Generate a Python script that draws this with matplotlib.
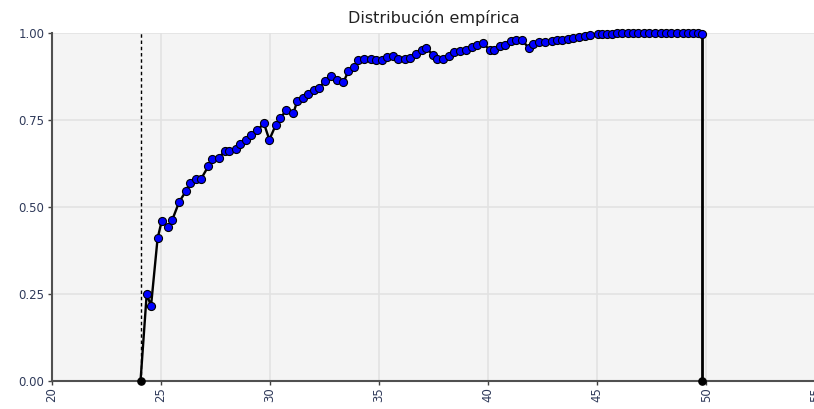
import matplotlib
matplotlib.use("Agg")
import matplotlib.pyplot as plt

title = "Distribución empírica"
x_min_bound = 24.08
x_max_bound = 49.78

xs = [24.36, 24.56, 24.86, 25.05, 25.35, 25.53, 25.85, 26.15, 26.34, 26.62,
      26.86, 27.18, 27.35, 27.66, 27.93, 28.14, 28.45, 28.65, 28.92, 29.14,
      29.43, 29.73, 29.98, 30.28, 30.48, 30.76, 31.08, 31.26, 31.53, 31.73,
      32.01, 32.25, 32.53, 32.80, 33.06, 33.37, 33.60, 33.87, 34.05, 34.33,
      34.64, 34.86, 35.13, 35.36, 35.63, 35.89, 36.19, 36.42, 36.70, 36.96,
      37.16, 37.46, 37.65, 37.95, 38.21, 38.44, 38.71, 38.97, 39.25, 39.51,
      39.78, 40.09, 40.27, 40.55, 40.77, 41.04, 41.26, 41.54, 41.86, 42.07,
      42.34, 42.61, 42.91, 43.14, 43.37, 43.67, 43.88, 44.18, 44.44, 44.67,
      45.02, 45.20, 45.43, 45.66, 45.92, 46.13, 46.39, 46.64, 46.89, 47.14,
      47.39, 47.65, 47.90, 48.15, 48.40, 48.65, 48.91, 49.16, 49.41, 49.62,
      49.78]
ys = [0.248, 0.215, 0.409, 0.459, 0.441, 0.462, 0.514, 0.544, 0.569, 0.581,
      0.581, 0.616, 0.638, 0.641, 0.659, 0.659, 0.667, 0.681, 0.693, 0.707,
      0.720, 0.740, 0.693, 0.736, 0.756, 0.777, 0.769, 0.805, 0.814, 0.825,
      0.835, 0.842, 0.861, 0.876, 0.864, 0.858, 0.890, 0.903, 0.922, 0.926,
      0.926, 0.921, 0.921, 0.930, 0.933, 0.926, 0.926, 0.929, 0.940, 0.950,
      0.957, 0.938, 0.924, 0.924, 0.935, 0.945, 0.948, 0.950, 0.959, 0.965,
      0.970, 0.950, 0.950, 0.962, 0.965, 0.978, 0.981, 0.981, 0.957, 0.967,
      0.973, 0.975, 0.976, 0.979, 0.979, 0.984, 0.986, 0.989, 0.991, 0.994,
      0.997, 0.996, 0.996, 0.997, 1.000, 1.000, 1.000, 1.000, 1.000, 1.000,
      1.000, 1.000, 1.000, 1.000, 1.000, 1.000, 1.000, 1.000, 1.000, 1.000,
      0.996]

x_ticks = [20, 25, 30, 35, 40, 45, 50, 55]
x_ticklabels = ["20", "25", "30", "35", "40", "45", "50", "55"]
y_ticks = [0.0, 0.25, 0.5, 0.75, 1.0]
y_ticklabels = ["0.00", "0.25", "0.50", "0.75", "1.00"]

W, H = 814, 409
fig = plt.figure(figsize=(W / 100, H / 100), dpi=100)
fig.patch.set_facecolor("white")
ax = fig.add_axes([51.5 / W, (H - 380.5) / H, 764 / W, 347.5 / H])
ax.set_facecolor("#f4f4f4")
ax.set_xlim(20, 55)
ax.set_ylim(0, 1)

ax.set_xticks(x_ticks)
ax.set_xticklabels(x_ticklabels, rotation=90)
ax.set_yticks(y_ticks)
ax.set_yticklabels(y_ticklabels)
ax.grid(True, color="#e2e2e2", linewidth=1.2)
ax.set_axisbelow(True)

for s in ["top", "right"]:
    ax.spines[s].set_visible(False)
for s in ["left", "bottom"]:
    ax.spines[s].set_color("#505050")
    ax.spines[s].set_linewidth(1.5)
ax.tick_params(axis="both", direction="out", length=3, width=1,
               color="#404040", labelsize=8.5, labelcolor="#2f3a5a", pad=2)

# dashed line at lower bound
ax.axvline(x_min_bound, color="black", linewidth=1, linestyle=(0, (2.5, 2)), zorder=2)

# curve
line_x = [x_min_bound] + xs
line_y = [0.0] + ys
ax.plot(line_x, line_y, color="black", linewidth=1.7, zorder=3, clip_on=False)
ax.plot([x_max_bound, x_max_bound], [0, ys[-1]], color="black", linewidth=2,
        zorder=3, clip_on=False)
ax.plot(xs, ys, linestyle="none", marker="o", markersize=5.8,
        markerfacecolor="#0000ff", markeredgecolor="black", markeredgewidth=0.8,
        zorder=4, clip_on=False)
ax.plot([x_min_bound, x_max_bound], [0, 0], linestyle="none", marker="o",
        markersize=5.2, color="black", zorder=5, clip_on=False)

ax.set_title(title, fontsize=11.5, color="#222222", pad=7)

fig.savefig("out.png", dpi=100)
